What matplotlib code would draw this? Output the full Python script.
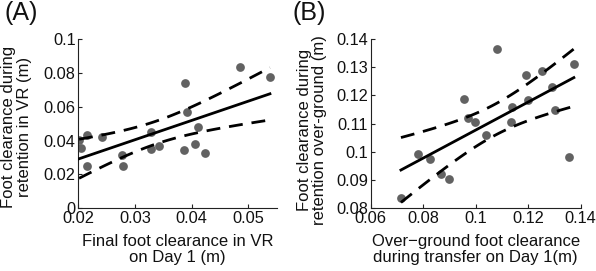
import numpy as np
import matplotlib
matplotlib.use('Agg')
import matplotlib.pyplot as plt

matplotlib.rcParams['font.family'] = 'Liberation Sans'
matplotlib.rcParams['axes.unicode_minus'] = True

# panel A: final foot clearance in VR (day 1) vs retention in VR
a_x = [0.0201, 0.0204, 0.0215, 0.0215, 0.0242, 0.0276, 0.0278, 0.0328, 0.0328,
       0.0343, 0.0388, 0.0391, 0.0387, 0.0406, 0.0411, 0.0423, 0.0486, 0.0538]
a_y = [0.0403, 0.0358, 0.0435, 0.0250, 0.0419, 0.0313, 0.0248, 0.0449, 0.0348,
       0.0370, 0.0738, 0.0571, 0.0344, 0.0380, 0.0482, 0.0328, 0.0833, 0.0777]

# panel B: over-ground transfer (day 1) vs retention over-ground
b_x = [0.0715, 0.0779, 0.0826, 0.0868, 0.0899, 0.0954, 0.0972, 0.0997, 0.1039, 0.1082,
       0.1137, 0.1133, 0.1191, 0.1200, 0.1253, 0.1291, 0.1302, 0.1357, 0.1374]
b_y = [0.0835, 0.0991, 0.0974, 0.0922, 0.0905, 0.1189, 0.1120, 0.1107, 0.1059, 0.1364,
       0.1160, 0.1106, 0.1273, 0.1184, 0.1288, 0.1229, 0.1149, 0.0982, 0.1312]

a_xticks = [0.02, 0.03, 0.04, 0.05]
a_yticks = [0, 0.02, 0.04, 0.06, 0.08, 0.1]
b_xticks = [0.06, 0.08, 0.1, 0.12, 0.14]
b_yticks = [0.08, 0.09, 0.1, 0.11, 0.12, 0.13, 0.14]

T975 = {16: 2.120, 17: 2.110}  # two-sided 95% t values


def fmt(v):
    return '0' if v == 0 else ('%g' % v)


def panel(ax, x, y, xlim, ylim, xticks, yticks, xlabel, ylabel, tag, tag_x, ylab_xy):
    x = np.array(x)
    y = np.array(y)
    n = len(x)
    slope, icpt = np.polyfit(x, y, 1)
    xs = np.linspace(x.min(), x.max(), 100)
    fit = slope * xs + icpt
    resid = y - (slope * x + icpt)
    s = np.sqrt(np.sum(resid ** 2) / (n - 2))
    se = s * np.sqrt(1 / n + (xs - x.mean()) ** 2 / np.sum((x - x.mean()) ** 2))
    ci = T975[n - 2] * se

    ax.plot(x, y, 'o', color='#626262', markersize=6.3, markeredgewidth=0, zorder=2)
    ax.plot(xs, fit, color='k', linewidth=2, zorder=3)
    ax.plot(xs, fit + ci, color='k', linewidth=2, dashes=(5, 3.2), zorder=3)
    ax.plot(xs, fit - ci, color='k', linewidth=2, dashes=(5, 3.2), zorder=3)

    ax.set_xlim(xlim)
    ax.set_ylim(ylim)
    ax.set_xticks(xticks)
    ax.set_yticks(yticks)
    ax.set_xticklabels([fmt(v) for v in xticks])
    ax.set_yticklabels([fmt(v) for v in yticks])
    ax.spines['top'].set_visible(False)
    ax.spines['right'].set_visible(False)
    for sp in ('left', 'bottom'):
        ax.spines[sp].set_linewidth(0.8)
        ax.spines[sp].set_color('#222222')
    ax.tick_params(direction='in', length=3, width=0.8, labelsize=11.8, pad=2,
                   colors='#222222', labelcolor='#111111')
    ax.set_xlabel(xlabel, fontsize=12, linespacing=1.05, color='#111111')
    ax.set_ylabel(ylabel, fontsize=12, linespacing=1.05, color='#111111')
    ax.xaxis.set_label_coords(0.5, -0.152)
    ax.yaxis.set_label_coords(*ylab_xy)
    ax.xaxis.label.set_va('top')
    ax.text(tag_x, 1.154, tag, transform=ax.transAxes,
            fontsize=18, va='center', ha='left', color='#111111')


fig = plt.figure(figsize=(5.96, 2.71), dpi=100)
ax1 = fig.add_axes([0.1317, 0.2314, 0.3326, 0.6247])
ax2 = fig.add_axes([0.6221, 0.2314, 0.3522, 0.6247])

panel(ax1, a_x, a_y, (0.02, 0.055), (0, 0.1), a_xticks, a_yticks,
      'Final foot clearance in VR\non Day 1 (m)',
      'Foot clearance during\nretention in VR (m)', '(A)', -0.372, (-0.237, 0.48))
panel(ax2, b_x, b_y, (0.06, 0.14), (0.08, 0.14), b_xticks, b_yticks,
      'Over\u2212ground foot clearance\nduring transfer on Day 1(m)',
      'Foot clearance during\nretention over-ground (m)', '(B)', -0.375, (-0.207, 0.46))

fig.savefig('out.png', dpi=100)
